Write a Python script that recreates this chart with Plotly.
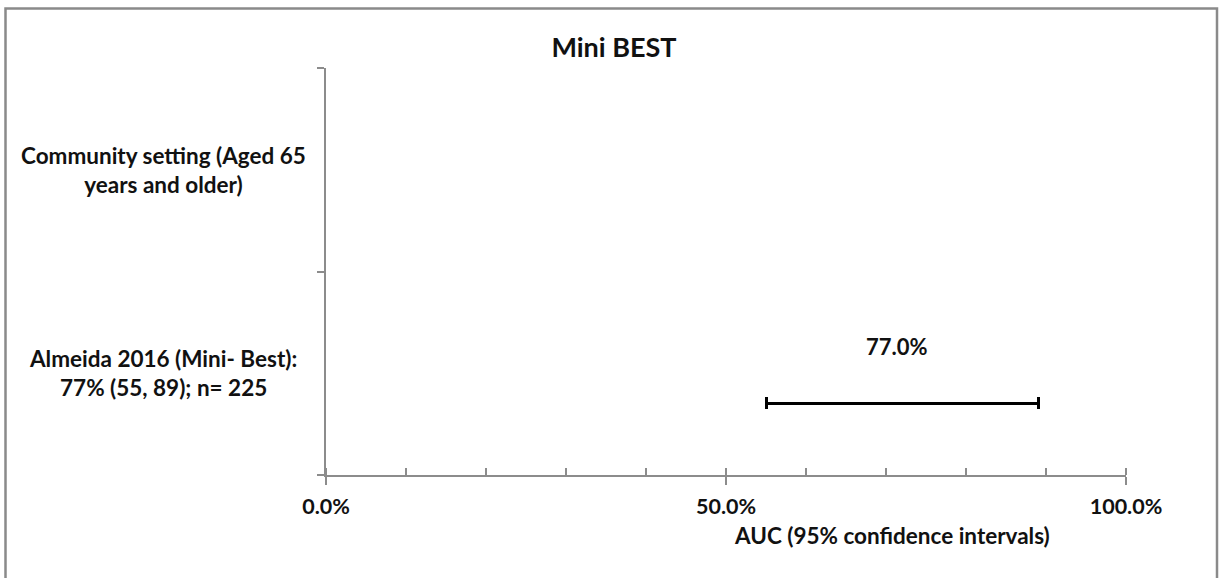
import plotly.graph_objects as go

title = "Mini BEST"
categories = ["Almeida 2016 (Mini- Best):<br>77% (55, 89); n= 225",
              "Community setting (Aged 65<br>years and older)"]
study_categories = ["Almeida 2016 (Mini- Best):<br>77% (55, 89); n= 225"]
auc = [0.77]
ci_low = [0.55]
ci_high = [0.89]
label_text = ["77.0%"]
x_title = "AUC (95% confidence intervals)"

FONT = "Lato"
AX = "#8c8c8c"
TXT = "#111111"

L, T, PW, PH = 326, 68, 800, 407

fig = go.Figure()
fig.add_trace(go.Bar(
    y=study_categories, x=auc, orientation="h",
    marker=dict(color="rgba(0,0,0,0)", line=dict(width=0)),
    width=0.2, offset=-0.247,
    error_x=dict(type="data", symmetric=False,
                 array=[h - v for h, v in zip(ci_high, auc)],
                 arrayminus=[v - l for l, v in zip(ci_low, auc)],
                 color="black", thickness=3, width=6),
    hoverinfo="skip", showlegend=False,
))
fig.add_trace(go.Scatter(x=[0, 1], y=[categories[0], categories[0]], xaxis="x2",
                         mode="markers", marker=dict(opacity=0), showlegend=False,
                         hoverinfo="skip"))

fig.update_layout(
    width=1223, height=578,
    margin=dict(l=L, r=1223 - L - PW, t=T, b=578 - T - PH),
    paper_bgcolor="white", plot_bgcolor="white",
    font=dict(family=FONT, size=21, color=TXT),
    title=dict(text="<b>" + title + "</b>", x=614 / 1223, xanchor="center",
               y=1 - 48 / 578, yanchor="middle", font=dict(size=27)),
    bargap=0,
    xaxis=dict(range=[0, 1], tickvals=[0, 0.5, 1], tickformat=".1%",
               showgrid=False, zeroline=False, showline=True, linecolor=AX,
               linewidth=2, ticks="outside", ticklen=8, tickcolor=AX, tickwidth=2,
               tickfont=dict(family=FONT, size=21.5, color=TXT, weight="bold"),
               ticklabelstandoff=3,
               minor=dict(dtick=0.1, tick0=0, ticks="inside", ticklen=7,
                          tickcolor=AX, tickwidth=2, showgrid=False)),
    xaxis2=dict(range=[0, 1], overlaying="x", side="bottom", anchor="y",
                tickvals=[0, 0.5, 1], showticklabels=False, ticks="inside",
                ticklen=7, tickcolor=AX, tickwidth=2, showgrid=False,
                zeroline=False, showline=False),
    yaxis=dict(type="category", categoryorder="array", categoryarray=categories,
               range=[-0.5, 1.5], showticklabels=False, showgrid=False,
               zeroline=False, showline=True, linecolor=AX, linewidth=2,
               ticks="outside", tickson="boundaries", ticklen=7, tickcolor=AX,
               tickwidth=2),
)

for c in categories:
    fig.add_annotation(text="<b>" + c + "</b>", xref="paper", yref="y",
                       x=(163 - L) / PW, y=c, xanchor="center", yanchor="middle",
                       showarrow=False, align="center",
                       font=dict(family=FONT, size=22.5, color=TXT))

for c, v, t in zip(study_categories, auc, label_text):
    fig.add_annotation(text="<b>" + t + "</b>", xref="x", yref="y", x=v, y=c,
                       xshift=-45, yshift=27, showarrow=False,
                       font=dict(family=FONT, size=22, color=TXT))

fig.add_annotation(text="<b>" + x_title + "</b>", xref="paper", yref="paper",
                   x=(892 - L) / PW, y=(475 - 535) / PH, xanchor="center",
                   yanchor="middle", showarrow=False,
                   font=dict(family=FONT, size=22.5, color=TXT))

fig.add_shape(type="rect", xref="paper", yref="paper",
              x0=(5.5 - L) / PW, x1=(1217 - L) / PW,
              y0=-0.4, y1=(475 - 8.5) / PH,
              line=dict(color="#8a8a8a", width=2.5), fillcolor="rgba(0,0,0,0)")

fig.write_html("out.html",
               config={"displayModeBar": False},
               post_script="document.body.style.margin='0';"
                           "document.body.style.overflow='hidden';")
